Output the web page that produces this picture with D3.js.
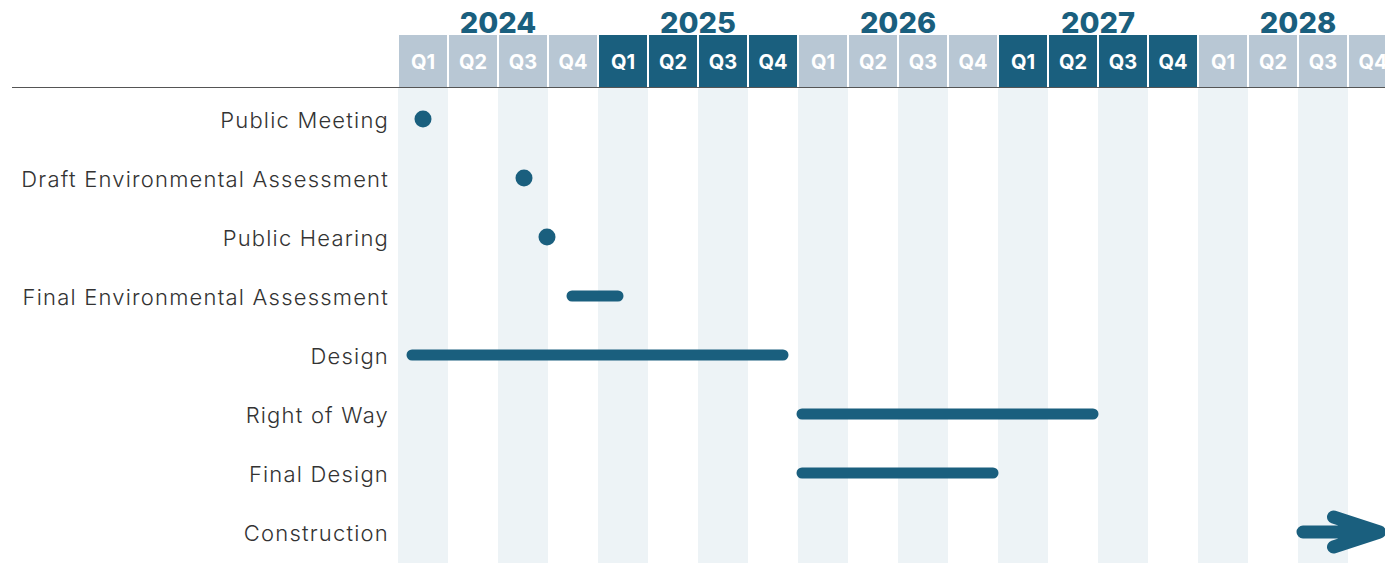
<!DOCTYPE html>
<html>
<head>
<meta charset="utf-8">
<script src="https://cdn.jsdelivr.net/npm/d3@7"></script>
<style>
  body { margin: 0; background: #fff; }
  svg { display: block; font-family: "Inter", "Open Sans", sans-serif; }
</style>
</head>
<body>
<svg id="chart" width="1385" height="563"></svg>
<script>
var years = [2024, 2025, 2026, 2027, 2028];
var quarters = ["Q1", "Q2", "Q3", "Q4"];

var tasks = ["Public Meeting", "Draft Environmental Assessment", "Public Hearing",
  "Final Environmental Assessment", "Design", "Right of Way", "Final Design", "Construction"];
// positions in quarters since start of 2024 (start, end); milestones have start == end
var taskStart = [0.5, 2.52, 2.98, 3.48, 0.28, 8.08, 8.08, 18.1];
var taskEnd   = [0.5, 2.52, 2.98, 4.4, 7.7, 13.9, 11.9, 19.75];

var width = 1385, height = 563;
var dark = "#1a5f7e", lightHead = "#b8c7d4", stripe = "#edf3f6";

var svg = d3.select("#chart");

var x = d3.scaleLinear().domain([0, years.length * 4]).range([398, 1398]);
var y = d3.scalePoint().domain(tasks).range([119, 532]);

var cells = [];
years.forEach(function(yr, i) {
  quarters.forEach(function(q, j) {
    cells.push({ year: yr, yi: i, q: q, idx: i * 4 + j });
  });
});

var qw = x(1) - x(0);

// background stripes for Q1 and Q3
svg.selectAll("rect.stripe")
  .data(cells.filter(function(d) { return d.q == "Q1" || d.q == "Q3"; }))
  .enter().append("rect")
    .attr("class", "stripe")
    .attr("x", function(d) { return x(d.idx); })
    .attr("y", 88)
    .attr("width", qw)
    .attr("height", height - 88)
    .attr("fill", stripe);

// header cells
svg.selectAll("rect.head")
  .data(cells)
  .enter().append("rect")
    .attr("class", "head")
    .attr("x", function(d) { return x(d.idx) + 1; })
    .attr("y", 35)
    .attr("width", qw - 2)
    .attr("height", 52)
    .attr("fill", function(d) { return d.yi % 2 == 1 ? dark : lightHead; });

svg.selectAll("text.qlab")
  .data(cells)
  .enter().append("text")
    .attr("class", "qlab")
    .attr("x", function(d) { return x(d.idx + 0.5); })
    .attr("y", 69)
    .attr("text-anchor", "middle")
    .attr("font-size", 20)
    .attr("font-weight", 700)
    .attr("fill", "#fff")
    .text(function(d) { return d.q; });

// year labels
svg.selectAll("text.year")
  .data(years)
  .enter().append("text")
    .attr("class", "year")
    .attr("x", function(d, i) { return x(i * 4 + 2); })
    .attr("y", 33)
    .attr("text-anchor", "middle")
    .attr("font-size", 29)
    .attr("font-weight", 800)
    .attr("fill", dark)
    .text(function(d) { return d; });

// axis line
svg.append("line")
  .attr("x1", 12).attr("x2", width)
  .attr("y1", 87.5).attr("y2", 87.5)
  .attr("stroke", "#555").attr("stroke-width", 1.2);

// task labels
svg.selectAll("text.task")
  .data(tasks)
  .enter().append("text")
    .attr("class", "task")
    .attr("x", 389)
    .attr("y", function(d) { return y(d); })
    .attr("dy", "0.4em")
    .attr("text-anchor", "end")
    .attr("font-size", 22)
    .attr("font-weight", 300)
    .attr("letter-spacing", "1.2px")
    .attr("fill", "#333")
    .text(function(d) { return d; });

var items = tasks.map(function(t, i) { return { task: t, s: taskStart[i], e: taskEnd[i] }; });

// milestones
svg.selectAll("circle.ms")
  .data(items.filter(function(d) { return d.s == d.e; }))
  .enter().append("circle")
    .attr("class", "ms")
    .attr("cx", function(d) { return x(d.s); })
    .attr("cy", function(d) { return y(d.task); })
    .attr("r", 8.5)
    .attr("fill", dark);

// duration bars
svg.selectAll("line.bar")
  .data(items.filter(function(d) { return d.s != d.e && d.task != "Construction"; }))
  .enter().append("line")
    .attr("class", "bar")
    .attr("x1", function(d) { return x(d.s); })
    .attr("x2", function(d) { return x(d.e); })
    .attr("y1", function(d) { return y(d.task); })
    .attr("y2", function(d) { return y(d.task); })
    .attr("stroke", dark)
    .attr("stroke-width", 11)
    .attr("stroke-linecap", "round");

// construction arrow (continues beyond the chart)
var c = items.filter(function(d) { return d.task == "Construction"; })[0];
var cy = y(c.task), tip = x(c.e) - 6;
svg.append("path")
  .attr("d", "M" + x(c.s) + "," + cy + "L" + tip + "," + cy +
             "M" + (tip - 46) + "," + (cy - 15) + "L" + tip + "," + cy + "L" + (tip - 46) + "," + (cy + 15))
  .attr("fill", "none")
  .attr("stroke", dark)
  .attr("stroke-width", 13)
  .attr("stroke-linecap", "round")
  .attr("stroke-linejoin", "round");
</script>
</body>
</html>
